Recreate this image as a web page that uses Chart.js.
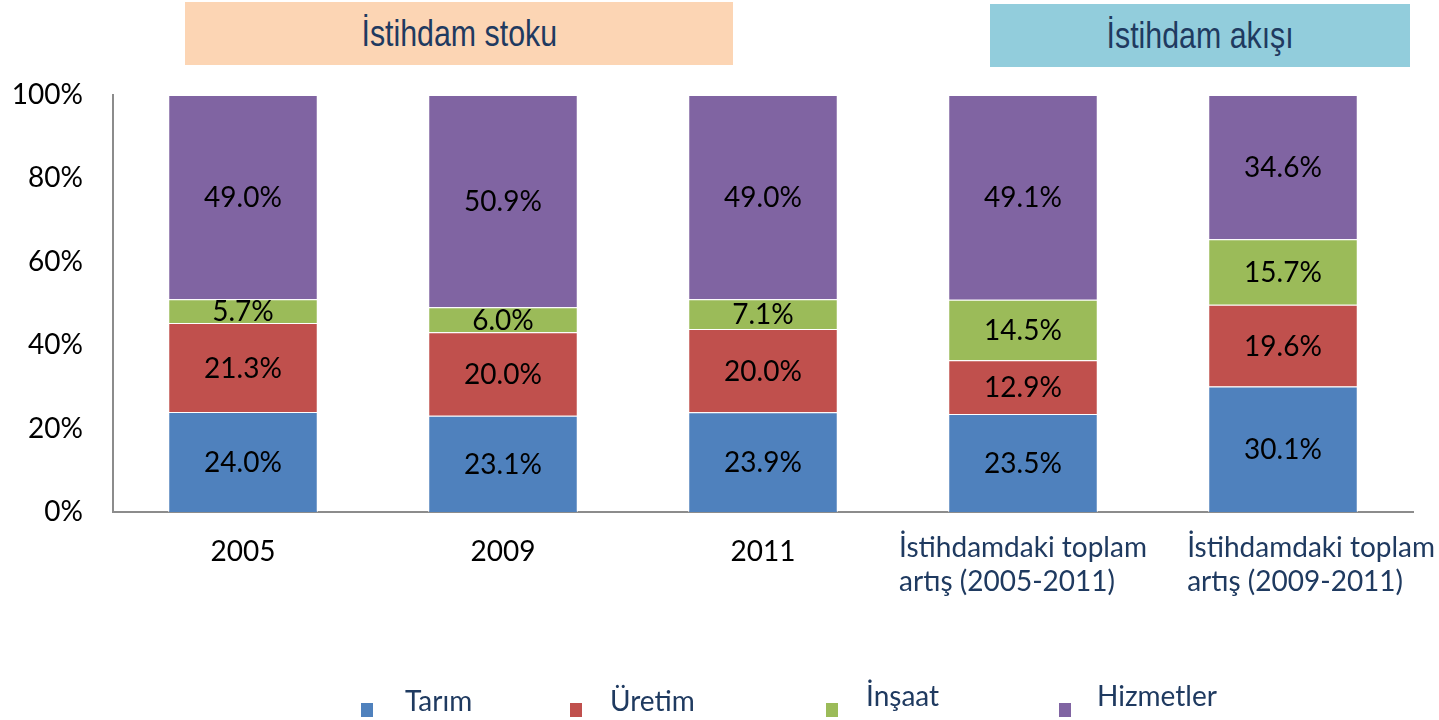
<!DOCTYPE html>
<html>
<head>
<meta charset="utf-8">
<script src="https://cdn.jsdelivr.net/npm/chart.js@4.4.0/dist/chart.umd.min.js"></script>
<style>
  body { margin: 0; background: #fff; }
  #wrap { position: relative; width: 1439px; height: 720px; }
  .hdr { position: absolute; color: #1F3A60; font-family: 'Liberation Sans', Arial, sans-serif;
         font-size: 37px; display: flex; align-items: center; justify-content: center; }
  .hdr span { display: inline-block; transform: scaleX(0.82); }
  .leg { position: absolute; font-family: Lato, 'Open Sans', sans-serif; font-size: 28px; line-height: 34px; color: #1F3A60; }
  .sq { position: absolute; width: 12px; height: 14px; }
</style>
</head>
<body>
<div id="wrap">
  <canvas id="chart"></canvas>
  <div class="hdr" style="left:185px;top:2px;width:548px;height:63px;background:#FCD5B4;"><span>İstihdam stoku</span></div>
  <div class="hdr" style="left:990px;top:4px;width:420px;height:63px;background:#92CDDC;"><span>İstihdam akışı</span></div>
  <div class="sq" style="left:361px;top:703px;background:#4F81BD;"></div>
  <div class="leg" style="left:405px;top:683px;">Tarım</div>
  <div class="sq" style="left:570px;top:703px;background:#C0504D;"></div>
  <div class="leg" style="left:610px;top:683px;">Üretim</div>
  <div class="sq" style="left:826px;top:703px;background:#9BBB59;"></div>
  <div class="leg" style="left:866px;top:678px;">İnşaat</div>
  <div class="sq" style="left:1059px;top:703px;background:#8064A2;"></div>
  <div class="leg" style="left:1097px;top:678px;">Hizmetler</div>
</div>
<script>
const categories = [
  ['2005'],
  ['2009'],
  ['2011'],
  ['İstihdamdaki toplam', 'artış (2005-2011)'],
  ['İstihdamdaki toplam', 'artış (2009-2011)']
];
const tarim     = [24.0, 23.1, 23.9, 23.5, 30.1];
const uretim    = [21.3, 20.0, 20.0, 12.9, 19.6];
const insaat    = [5.7, 6.0, 7.1, 14.5, 15.7];
const hizmetler = [49.0, 50.9, 49.0, 49.1, 34.6];
const yTicks = [0, 20, 40, 60, 80, 100];

const FONT = 'Lato, "Open Sans", sans-serif';

// value labels in the middle of every segment
const valueLabels = {
  id: 'valueLabels',
  afterDatasetsDraw(chart) {
    const ctx = chart.ctx;
    ctx.save();
    ctx.font = '28px ' + FONT;
    ctx.fillStyle = '#000';
    ctx.textAlign = 'center';
    ctx.textBaseline = 'middle';
    chart.data.datasets.forEach((ds, i) => {
      chart.getDatasetMeta(i).data.forEach((bar, j) => {
        ctx.fillText(ds.data[j].toFixed(1) + '%', bar.x, (bar.y + bar.base) / 2 + 1);
      });
    });
    ctx.restore();
  }
};

// category labels; multi-line ones left aligned, the last one pushed to the right edge
const catLabels = {
  id: 'catLabels',
  afterDraw(chart) {
    const ctx = chart.ctx;
    const xs = chart.scales.x;
    ctx.save();
    ctx.font = '28px ' + FONT;
    ctx.textBaseline = 'middle';
    categories.forEach((lines, i) => {
      const cx = xs.getPixelForValue(i);
      if (lines.length === 1) {
        ctx.fillStyle = '#000';
        ctx.textAlign = 'center';
        ctx.fillText(lines[0], cx, 552);
      } else {
        ctx.fillStyle = '#1F3A60';
        ctx.textAlign = 'left';
        const w = Math.max(...lines.map(l => ctx.measureText(l).width));
        let x0 = cx - w / 2;
        if (i === categories.length - 1) x0 = chart.width - w - 4;
        lines.forEach((l, k) => ctx.fillText(l, x0, 548 + k * 34));
      }
    });
    ctx.restore();
  }
};

const mk = (label, data, color) => ({
  label, data, backgroundColor: color,
  borderColor: '#fff', borderWidth: 1,
  barPercentage: 0.575, categoryPercentage: 1
});

new Chart(document.getElementById('chart'), {
  type: 'bar',
  data: {
    labels: categories.map(c => c.join(' ')),
    datasets: [
      mk('Tarım', tarim, '#4F81BD'),
      mk('Üretim', uretim, '#C0504D'),
      mk('İnşaat', insaat, '#9BBB59'),
      mk('Hizmetler', hizmetler, '#8064A2')
    ]
  },
  options: {
    responsive: true,
    maintainAspectRatio: false,
    animation: false,
    layout: { padding: { top: 95, right: 26, left: 0, bottom: 0 } },
    plugins: {
      legend: { display: false },
      tooltip: { enabled: false }
    },
    scales: {
      x: {
        stacked: true,
        grid: { display: false, drawTicks: false },
        border: { display: true, color: '#8c8c8c', width: 2 },
        ticks: { display: false },
        afterFit(s) { s.height = 208; }
      },
      y: {
        stacked: true,
        min: 0, max: 100,
        afterBuildTicks(s) { s.ticks = yTicks.map(v => ({ value: v })); },
        grid: { display: false, drawTicks: false },
        border: { display: true, color: '#8c8c8c', width: 2 },
        ticks: {
          padding: 30,
          color: '#000',
          font: { family: FONT, size: 28 },
          callback: v => v + '%'
        },
        afterFit(s) { s.width = 113; }
      }
    }
  },
  plugins: [valueLabels, catLabels]
});
</script>
</body>
</html>
